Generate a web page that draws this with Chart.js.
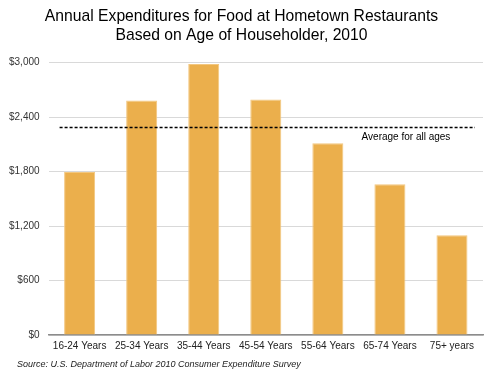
<!DOCTYPE html>
<html>
<head>
<meta charset="utf-8">
<script src="https://cdn.jsdelivr.net/npm/chart.js@4/dist/chart.umd.min.js"></script>
<style>
  html, body { margin: 0; padding: 0; background: #fff; }
  #wrap { width: 489px; height: 375px; }
</style>
</head>
<body>
<div id="wrap"><canvas id="chart"></canvas></div>
<script>
const ageGroups = [
  "16-24 Years",
  "25-34 Years",
  "35-44 Years",
  "45-54 Years",
  "55-64 Years",
  "65-74 Years",
  "75+ years",
];
const spending = [1797, 2582, 2986, 2593, 2113, 1662, 1100];
const averageAllAges = 2292;
const yTicks = [0, 600, 1200, 1800, 2400, 3000];
const sourceNote = "Source: U.S. Department of Labor 2010 Consumer Expenditure Survey";

const FONT = "'Liberation Sans', Arial, sans-serif";

// dotted line for the overall average (placed with the y scale) + source note
const annotations = {
  id: "annotations",
  afterDatasetsDraw(chart) {
    const { ctx, chartArea, scales } = chart;
    const y = Math.round(scales.y.getPixelForValue(averageAllAges)) + 0.5;
    ctx.save();
    ctx.strokeStyle = "#000";
    ctx.lineWidth = 1.5;
    ctx.setLineDash([3, 2]);
    ctx.beginPath();
    ctx.moveTo(chartArea.left + 11, y);
    ctx.lineTo(chartArea.right - 8, y);
    ctx.stroke();
    ctx.setLineDash([]);
    ctx.fillStyle = "#000";
    ctx.font = "10px " + FONT;
    ctx.textAlign = "left";
    ctx.textBaseline = "middle";
    ctx.fillText("Average for all ages", chartArea.left + 313, y + 10);

    ctx.fillStyle = "#222";
    ctx.font = "italic 9px " + FONT;
    ctx.fillText(sourceNote, 17, chart.height - 11);
    ctx.restore();
  },
};

new Chart(document.getElementById("chart"), {
  type: "bar",
  data: {
    labels: ageGroups,
    datasets: [
      {
        data: spending,
        backgroundColor: "#EBAF4C",
        borderColor: "#F3C77F",
        borderWidth: 1,
        categoryPercentage: 1,
        barPercentage: 0.5,
      },
    ],
  },
  options: {
    responsive: true,
    maintainAspectRatio: false,
    animation: false,
    layout: { padding: { left: 0, right: 6, top: 0, bottom: 18 } },
    scales: {
      x: {
        grid: { display: false, drawTicks: false },
        border: { color: "#8c8c8c", width: 1.5 },
        ticks: {
          color: "#222",
          font: { family: FONT, size: 10 },
          padding: 5,
          maxRotation: 0,
          autoSkip: false,
        },
      },
      y: {
        min: 0,
        max: 3000,
        afterBuildTicks(axis) {
          axis.ticks = yTicks.map((v) => ({ value: v }));
        },
        grid: { color: "#d9d9d9", lineWidth: 1, drawTicks: false },
        border: { display: false },
        ticks: {
          color: "#333",
          padding: 9,
          font: { family: FONT, size: 10 },
          callback: (v) => "$" + v.toLocaleString("en-US"),
        },
      },
    },
    plugins: {
      legend: { display: false },
      tooltip: { enabled: false },
      title: {
        display: true,
        text: [
          "Annual Expenditures for Food at Hometown Restaurants",
          "Based on Age of Householder, 2010",
        ],
        color: "#000",
        font: { family: FONT, size: 15.7, weight: "normal", lineHeight: 1.2 },
        padding: { top: 7, bottom: 18 },
      },
    },
  },
  plugins: [annotations],
});
</script>
</body>
</html>
